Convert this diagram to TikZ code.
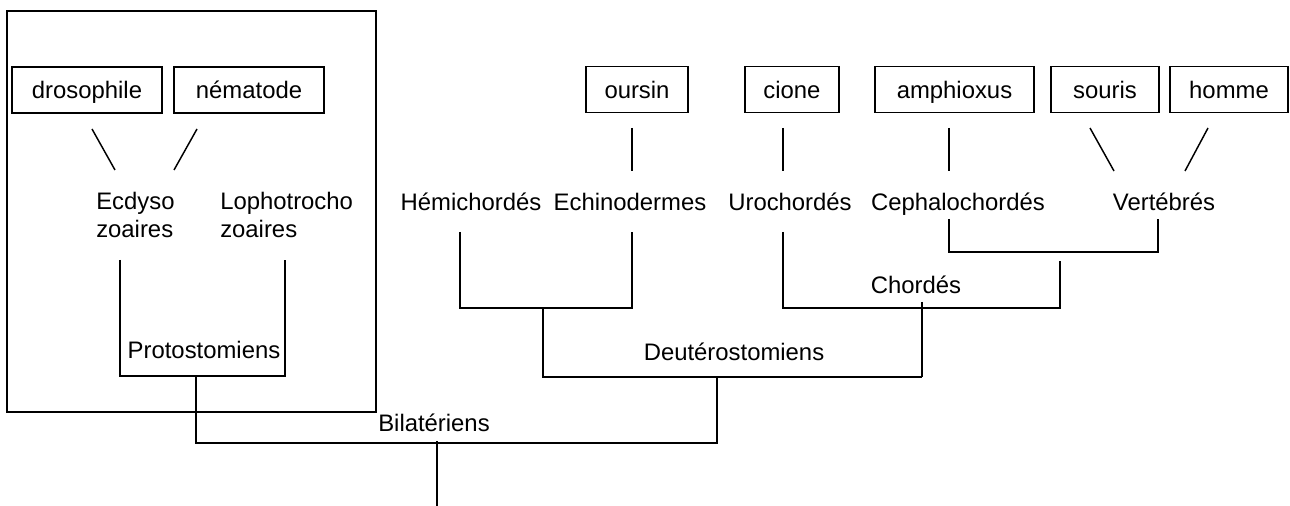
\documentclass[tikz,border=0pt]{standalone}
\usepackage{fontspec}
\setmainfont{Liberation Sans}
\begin{document}
\begin{tikzpicture}[x=0.75pt,y=-0.75pt,
  every node/.style={font=\fontsize{17.9}{21}\selectfont},
  species/.style={draw,line width=1.1pt,minimum height=34.8pt,inner sep=0pt,text height=12.8pt,text depth=0pt},
  clade/.style={inner sep=0pt,text height=12.8pt,text depth=0pt},
  branch/.style={line width=1.1pt}]
\useasboundingbox (0,0) rectangle (1290,506);
% outer frame
\node[draw,line width=1.1pt,minimum width=276.75pt,minimum height=300.75pt,inner sep=0pt] (frame) at (191.5,211.5) {};
% species boxes
\node[species,minimum width=112.5pt] (dro) at (87,90) {drosophile};
\node[species,minimum width=112.5pt] (nem) at (249,90) {nématode};
\node[species,minimum width=76.5pt] (our) at (637,89.5) {oursin};
\node[species,minimum width=70.5pt] (cio) at (792,89.5) {cione};
\node[species,minimum width=119.25pt] (amp) at (954.5,89.5) {amphioxus};
\node[species,minimum width=81pt] (sou) at (1105,89.5) {souris};
\node[species,minimum width=88.5pt] (hom) at (1229,89.5) {homme};
% clade labels
\node[inner sep=0pt,align=left,anchor=west] (ecd) at (96,215) {Ecdyso\\zoaires};
\node[inner sep=0pt,align=left,anchor=west] (lop) at (220,215) {Lophotrocho\\zoaires};
\node[clade] (hem) at (471,201.5) {Hémichordés};
\node[clade] (ech) at (630,201.5) {Echinodermes};
\node[clade] (uro) at (790,201.5) {Urochordés};
\node[clade] (cep) at (958,201.5) {Cephalochordés};
\node[clade] (ver) at (1164,201.5) {Vertébrés};
\node[clade] (pro) at (204,349.5) {Protostomiens};
\node[clade] (deu) at (734,351.5) {Deutérostomiens};
\node[clade] (cho) at (916,284.5) {Chordés};
\node[clade] (bil) at (434,423) {Bilatériens};
% coordinates
\coordinate (d1) at (92,129); \coordinate (d2) at (115,170);
\coordinate (n1) at (197,129); \coordinate (n2) at (174,170);
\coordinate (o1) at (632,128); \coordinate (o2) at (632,171);
\coordinate (c1) at (783,128); \coordinate (c2) at (783,171);
\coordinate (a1) at (949,128); \coordinate (a2) at (949,171);
\coordinate (s1) at (1090,128); \coordinate (s2) at (1114,171);
\coordinate (h1) at (1208,128); \coordinate (h2) at (1185,171);
% Protostomiens bracket
\coordinate (pl) at (120,260); \coordinate (pr) at (285,260);
\coordinate (pbl) at (120,376); \coordinate (pbr) at (285,376);
\coordinate (ps) at (196,376);
% Hemichordes/Echinodermes bracket
\coordinate (hl) at (460,232); \coordinate (hr) at (632,232);
\coordinate (hbl) at (460,308); \coordinate (hbr) at (632,308);
\coordinate (hs) at (543,308);
% Cephalo/Vertebres bracket
\coordinate (vl) at (949,219); \coordinate (vr) at (1158,219);
\coordinate (vbl) at (949,252); \coordinate (vbr) at (1158,252);
% Chordes bracket
\coordinate (ul) at (783,232); \coordinate (ur) at (1060,261);
\coordinate (ubl) at (783,308); \coordinate (ubr) at (1060,308);
\coordinate (us) at (922,302);
% Deuterostomiens bracket
\coordinate (dbl) at (543,377); \coordinate (dbr) at (922,377);
\coordinate (ds) at (717,377);
% Bilateriens
\coordinate (bbl) at (196,443); \coordinate (bbr) at (717,443);
\coordinate (bs) at (437,441); \coordinate (root) at (437,506);
% species to clades
\draw[branch] (d1) -- (d2);
\draw[branch] (n1) -- (n2);
\draw[branch] (o1) -- (o2);
\draw[branch] (c1) -- (c2);
\draw[branch] (a1) -- (a2);
\draw[branch] (s1) -- (s2);
\draw[branch] (h1) -- (h2);
% brackets
\draw[branch] (pl) -- (pbl) -- (pbr) -- (pr);
\draw[branch] (hl) -- (hbl) -- (hbr) -- (hr);
\draw[branch] (vl) -- (vbl) -- (vbr) -- (vr);
\draw[branch] (ul) -- (ubl) -- (ubr) -- (ur);
\draw[branch] (us) -- (dbr);
\draw[branch] (hs) -- (dbl) -- (dbr);
\draw[branch] (ps) -- (bbl) -- (bbr) -- (ds);
\draw[branch] (bs) -- (root);
\end{tikzpicture}
\end{document}
